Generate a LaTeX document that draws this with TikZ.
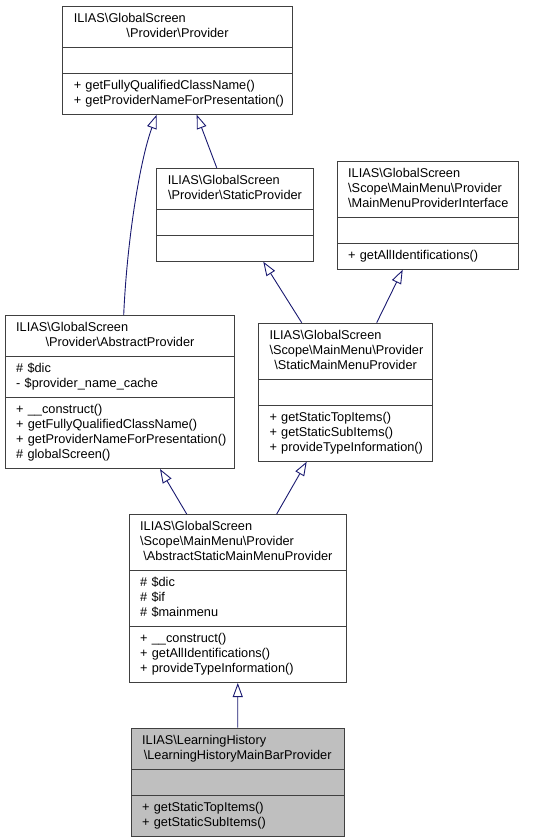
\documentclass[tikz,border=0pt]{standalone}
\usepackage{fontspec}
\setmainfont{Liberation Sans}
\usetikzlibrary{shapes.multipart,arrows.meta}
\definecolor{edgeblue}{HTML}{191970}
\definecolor{boxline}{HTML}{404040}
\newcommand{\bsl}{\textbackslash}
% class name: left lines, last line centred
\newcommand{\cname}[2]{{\strut #1\par\centering\strut #2\par}}
% one member line, never broken
\newcommand{\mem}[1]{\strut\mbox{#1}}

\begin{document}
\begin{tikzpicture}[x=1pt, y=-1pt,
    cls/.style={rectangle split, rectangle split parts=3, draw=boxline, fill=white,
      line width=1pt, anchor=north west, inner xsep=11pt, inner ysep=5pt, align=left,
      font=\fontsize{12.75}{15}\selectfont},
    inh/.style={draw=edgeblue, line width=0.9pt, -{Triangle[open, length=14pt, width=10pt]}}]
    \useasboundingbox (0,0) rectangle (535,839);

    \node[cls, text width=207.4pt] (prov) at (62.3,5.7)
        {\cname{ILIAS\bsl GlobalScreen}{\bsl Provider\bsl Provider}
        \nodepart{two}\strut
        \nodepart{three}\mem{+ getFullyQualifiedClassName()}\\\mem{+ getProviderNameForPresentation()}};
    \node[cls, text width=134.4pt] (sprov) at (156.3,167.7)
        {\cname{ILIAS\bsl GlobalScreen}{\bsl Provider\bsl StaticProvider}
        \nodepart{two}\strut
        \nodepart{three}\strut};
    \node[cls, text width=159pt] (mmpi) at (336.7,160.7)
        {\cname{ILIAS\bsl GlobalScreen\\\strut\bsl Scope\bsl MainMenu\bsl Provider}{\bsl MainMenuProviderInterface}
        \nodepart{two}\strut
        \nodepart{three}\mem{+ getAllIdentifications()}};
    \node[cls, text width=207.6pt] (aprov) at (4.7,315)
        {\cname{ILIAS\bsl GlobalScreen}{\bsl Provider\bsl AbstractProvider}
        \nodepart{two}\mem{\# \$dic}\\\mem{- \$provider\_name\_cache}
        \nodepart{three}\mem{+ \_\_construct()}\\\mem{+ getFullyQualifiedClassName()}\\\mem{+ getProviderNameForPresentation()}\\\mem{\# globalScreen()}};
    \node[cls, text width=152.3pt] (smmp) at (258,322.7)
        {\cname{ILIAS\bsl GlobalScreen\\\strut\bsl Scope\bsl MainMenu\bsl Provider}{\bsl StaticMainMenuProvider}
        \nodepart{two}\strut
        \nodepart{three}\mem{+ getStaticTopItems()}\\\mem{+ getStaticSubItems()}\\\mem{+ provideTypeInformation()}};
    \node[cls, text width=195.3pt] (asmmp) at (128.7,514)
        {\cname{ILIAS\bsl GlobalScreen\\\strut\bsl Scope\bsl MainMenu\bsl Provider}{\bsl AbstractStaticMainMenuProvider}
        \nodepart{two}\mem{\# \$dic}\\\mem{\# \$if}\\\mem{\# \$mainmenu}
        \nodepart{three}\mem{+ \_\_construct()}\\\mem{+ getAllIdentifications()}\\\mem{+ provideTypeInformation()}};
    \node[cls, text width=191pt, fill=black!25] (lh) at (130.7,727.7)
        {\cname{ILIAS\bsl LearningHistory}{\bsl LearningHistoryMainBarProvider}
        \nodepart{two}\strut
        \nodepart{three}\mem{+ getStaticTopItems()}\\\mem{+ getStaticSubItems()}};

    \draw[inh] ([xshift=119pt]aprov.north west) .. controls (127,240) and (140,160) .. ([xshift=94.4pt]prov.south west);
    \draw[inh] ([xshift=60.4pt]sprov.north west) -- ([xshift=134.4pt]prov.south west);
    \draw[inh] ([xshift=43.7pt]smmp.north west) -- ([xshift=107pt]sprov.south west);
    \draw[inh] ([xshift=118.7pt]smmp.north west) -- ([xshift=66pt]mmpi.south west);
    \draw[inh] ([xshift=58pt]asmmp.north west) -- ([xshift=155.3pt]aprov.south west);
    \draw[inh] ([xshift=148pt]asmmp.north west) -- ([xshift=48.7pt]smmp.south west);
    \draw[inh] (lh) -- (asmmp);
\end{tikzpicture}
\end{document}
